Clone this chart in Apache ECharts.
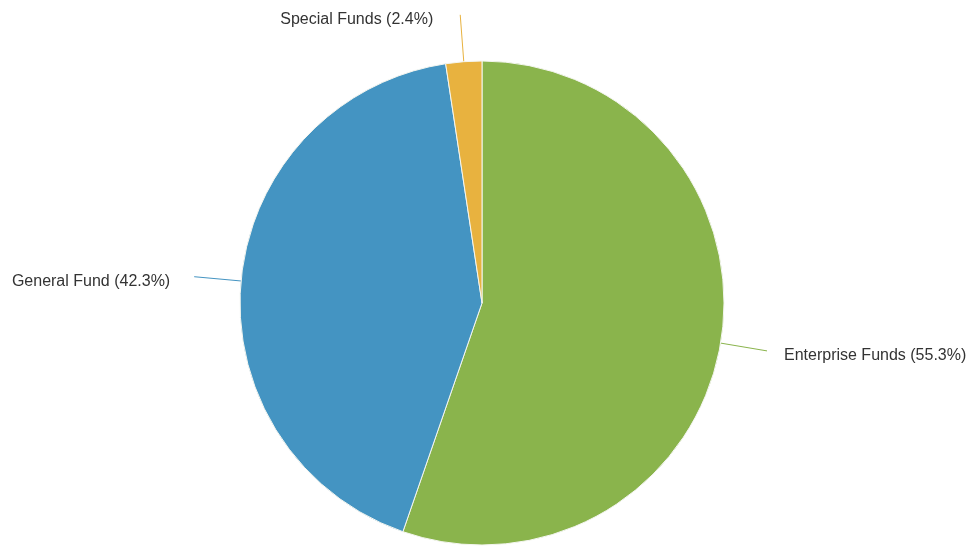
<!DOCTYPE html>
<html>
<head>
<meta charset="utf-8">
<script src="https://cdn.jsdelivr.net/npm/echarts@6/dist/echarts.min.js"></script>
<style>
  html, body { margin: 0; padding: 0; background: #ffffff; }
  #chart { width: 975px; height: 550px; }
</style>
</head>
<body>
<div id="chart"></div>
<script>
// Fund shares of the total (percent)
const fundNames = ['Enterprise Funds', 'General Fund', 'Special Funds'];
const fundShares = [55.3, 42.3, 2.4];
const fundColors = ['#8ab44c', '#4494c2', '#e8b23f'];
// Gap between each leader line and its label text
const labelGaps = [17, 24, 27];

const chart = echarts.init(document.getElementById('chart'), null, { renderer: 'canvas' });

const pieData = fundNames.map((name, i) => ({
  name: name,
  value: fundShares[i],
  itemStyle: { color: fundColors[i] },
  label: { distanceToLabelLine: labelGaps[i] },
  labelLine: { lineStyle: { color: fundColors[i] } }
}));

chart.setOption({
  backgroundColor: '#ffffff',
  animation: false,
  series: [{
    type: 'pie',
    center: [482, 303],
    radius: 242,
    startAngle: 90,
    clockwise: true,
    avoidLabelOverlap: false,
    data: pieData,
    itemStyle: { borderColor: '#f4f6f0', borderWidth: 1 },
    label: {
      show: true,
      position: 'outside',
      formatter: p => p.name + ' (' + p.value.toFixed(1) + '%)',
      fontFamily: 'Liberation Sans, Arial, sans-serif',
      fontSize: 16,
      color: '#333333'
    },
    labelLayout: { dy: 5 },
    labelLine: {
      show: true,
      length: 47,
      length2: 0,
      smooth: false,
      lineStyle: { width: 1 }
    }
  }]
});
</script>
</body>
</html>
